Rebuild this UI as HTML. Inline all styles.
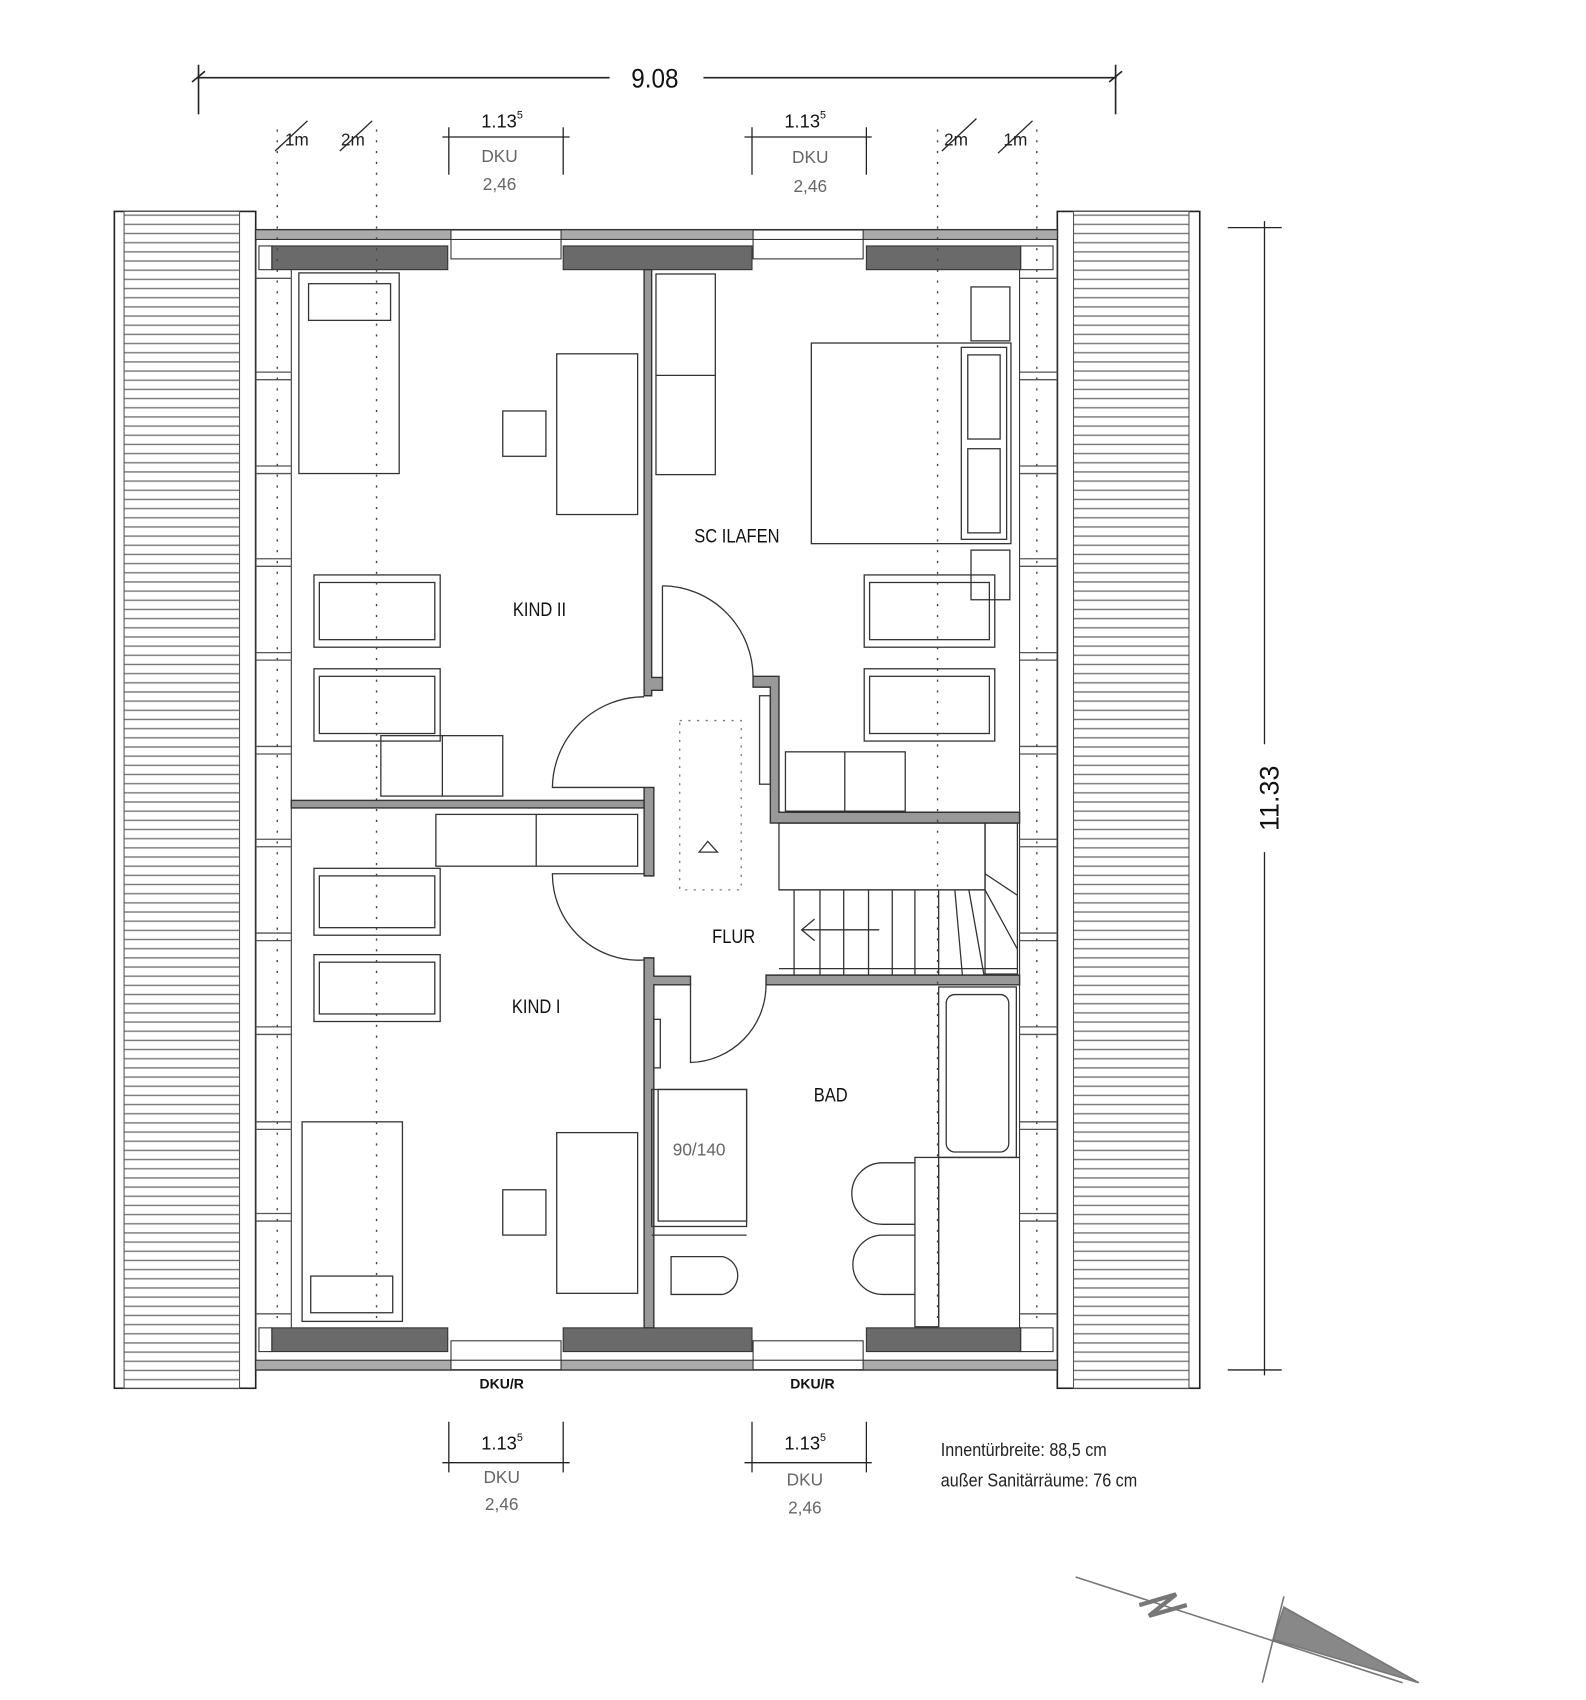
<!DOCTYPE html>
<html><head><meta charset="utf-8"><style>
html,body{margin:0;padding:0;background:#fff;width:1586px;height:1700px;overflow:hidden}
svg{display:block}
text{font-family:"Liberation Sans",sans-serif}
</style></head><body>
<svg width="1586" height="1700" viewBox="0 0 1470 1576" preserveAspectRatio="none" xmlns="http://www.w3.org/2000/svg">
<defs>
<pattern id="hatch" width="10" height="8.5" patternUnits="userSpaceOnUse"><rect width="10" height="8.5" fill="#fff"/><line x1="0" y1="4" x2="10" y2="4" stroke="#777" stroke-width="1.3"/></pattern>
</defs>
<g stroke="#222" fill="none" stroke-width="1.5">
<line x1="183" y1="72" x2="565" y2="72"/><line x1="652" y1="72" x2="1035" y2="72"/>
<line x1="184" y1="60" x2="184" y2="106"/><line x1="1034" y1="60" x2="1034" y2="106"/>
<line x1="178" y1="76" x2="190" y2="66"/><line x1="1028" y1="76" x2="1040" y2="66"/>
<g stroke-width="1.2">
<line x1="410" y1="127" x2="528" y2="127"/><line x1="416" y1="118" x2="416" y2="162"/><line x1="522" y1="118" x2="522" y2="162"/>
<line x1="690" y1="127" x2="808" y2="127"/><line x1="697" y1="118" x2="697" y2="162"/><line x1="803" y1="118" x2="803" y2="162"/>
<line x1="410" y1="1356" x2="528" y2="1356"/><line x1="416" y1="1318" x2="416" y2="1365"/><line x1="522" y1="1318" x2="522" y2="1365"/>
<line x1="690" y1="1356" x2="808" y2="1356"/><line x1="697" y1="1318" x2="697" y2="1365"/><line x1="803" y1="1318" x2="803" y2="1365"/>
<line x1="1172" y1="205" x2="1172" y2="690"/><line x1="1172" y1="790" x2="1172" y2="1275"/>
<line x1="1138" y1="211" x2="1188" y2="211"/><line x1="1138" y1="1270" x2="1188" y2="1270"/>
<line x1="255" y1="140" x2="285" y2="112"/><line x1="315" y1="140" x2="345" y2="112"/>
<line x1="873" y1="140" x2="905" y2="110"/><line x1="925" y1="142" x2="957" y2="112"/>
</g>
</g>
<rect x="106" y="196" width="131" height="1091" fill="#fff" stroke="#222" stroke-width="1.5"/>
<rect x="115" y="196" width="107" height="1091" fill="url(#hatch)" stroke="#555" stroke-width="1"/>
<rect x="980" y="196" width="132" height="1091" fill="#fff" stroke="#222" stroke-width="1.5"/>
<rect x="995" y="196" width="107" height="1091" fill="url(#hatch)" stroke="#555" stroke-width="1"/>
<rect x="237" y="213" width="743" height="1057" fill="#fff" stroke="#333" stroke-width="1.5"/>
<g fill="#6a6a6a" stroke="#333" stroke-width="1">
<rect x="237" y="213" width="181" height="9" fill="#aaa"/><rect x="520" y="213" width="178" height="9" fill="#aaa"/><rect x="800" y="213" width="180" height="9" fill="#aaa"/>
<rect x="252" y="228" width="163" height="22"/><rect x="522" y="228" width="175" height="22"/><rect x="803" y="228" width="143" height="22"/>
<rect x="237" y="1261" width="181" height="9" fill="#aaa"/><rect x="520" y="1261" width="178" height="9" fill="#aaa"/><rect x="800" y="1261" width="180" height="9" fill="#aaa"/>
<rect x="252" y="1231" width="163" height="22"/><rect x="522" y="1231" width="175" height="22"/><rect x="803" y="1231" width="143" height="22"/>
</g>
<g stroke="#333" fill="none" stroke-width="1">
<rect x="418" y="222" width="102" height="18"/><rect x="698" y="222" width="102" height="18"/>
<rect x="418" y="1243" width="102" height="18"/><rect x="698" y="1243" width="102" height="18"/>
<rect x="240" y="228" width="12" height="22"/><rect x="946" y="228" width="30" height="22"/>
<rect x="240" y="1231" width="12" height="22"/><rect x="946" y="1231" width="30" height="22"/>
<line x1="270" y1="250" x2="270" y2="1231"/><line x1="945" y1="250" x2="945" y2="1231"/>
</g>
<g stroke="#555" stroke-width="1.2" fill="none">
<path d="M237 258H270M237 345H270M237 352H270M237 432H270M237 439H270M237 518H270M237 525H270M237 605H270M237 612H270M237 692H270M237 699H270M237 778H270M237 785H270M237 865H270M237 872H270M237 952H270M237 959H270M237 1040H270M237 1047H270M237 1125H270M237 1132H270M237 1218H270"/>
<path d="M945 258H980M945 345H980M945 352H980M945 432H980M945 439H980M945 518H980M945 525H980M945 605H980M945 612H980M945 692H980M945 699H980M945 778H980M945 785H980M945 865H980M945 872H980M945 952H980M945 959H980M945 1040H980M945 1047H980M945 1125H980M945 1132H980M945 1218H980"/>
</g>
<g fill="#999" stroke="#333" stroke-width="1.3">
<path d="M597 250H604V628H614V640H604V645H597Z"/>
<rect x="270" y="742" width="327" height="7"/>
<path d="M597 730H606V812H597Z"/>
<path d="M597 888H606V905H640V913H606V1231H597Z"/>
<path d="M698 627H722V753H945V763H714V637H698Z"/>
<path d="M710 904H945V913H710Z"/>
</g>
<g stroke="#333" fill="none" stroke-width="1.2">
<path d="M614 543 V 630"/><path d="M614 543 A 85 85 0 0 1 698 628"/>
<path d="M597 646 A 85 85 0 0 0 512 730 H597"/>
<path d="M597 890 A 80 80 0 0 1 512 810 H 597"/>
<path d="M640 913 V 985 A 72 72 0 0 0 710 913"/>
<rect x="704" y="645" width="10" height="82"/>
<rect x="630" y="668" width="57" height="157" stroke-dasharray="2,6" stroke="#777"/>
<path d="M648 790 L656 780 L665 790 Z"/>
<rect x="722" y="763" width="191" height="62"/>
<rect x="913" y="763" width="30" height="140"/>
<path d="M736 825V904M760 825V904M782 825V904M805 825V904M827 825V904M848 825V904M870 825V904M885 825L892 904M898 825L912 904M913 825L943 880M913 810L943 830"/>
<line x1="722" y1="825" x2="913" y2="825"/><line x1="722" y1="898" x2="943" y2="898"/>
<path d="M815 862H743M755 852L743 862L755 872"/>
<rect x="277" y="253" width="93" height="186"/><rect x="286" y="263" width="76" height="34"/>
<rect x="516" y="328" width="75" height="149"/><rect x="466" y="381" width="40" height="42"/>
<rect x="291" y="533" width="117" height="67"/><rect x="296" y="540" width="107" height="53"/>
<rect x="291" y="620" width="117" height="67"/><rect x="296" y="627" width="107" height="53"/>
<rect x="353" y="682" width="113" height="56"/><line x1="410" y1="682" x2="410" y2="738"/>
<rect x="404" y="755" width="187" height="48"/><line x1="497" y1="755" x2="497" y2="803"/>
<rect x="291" y="805" width="117" height="62"/><rect x="296" y="812" width="107" height="48"/>
<rect x="291" y="885" width="117" height="62"/><rect x="296" y="892" width="107" height="48"/>
<rect x="280" y="1040" width="93" height="185"/><rect x="288" y="1183" width="76" height="34"/>
<rect x="516" y="1050" width="75" height="149"/><rect x="466" y="1103" width="40" height="42"/>
<rect x="608" y="254" width="55" height="186"/><line x1="608" y1="348" x2="663" y2="348"/>
<rect x="752" y="318" width="185" height="186"/><rect x="891" y="322" width="42" height="178"/>
<rect x="897" y="329" width="30" height="78"/><rect x="897" y="416" width="30" height="78"/>
<rect x="900" y="266" width="36" height="50"/><rect x="900" y="510" width="36" height="46"/>
<rect x="801" y="533" width="121" height="67"/><rect x="806" y="540" width="111" height="53"/>
<rect x="801" y="620" width="121" height="67"/><rect x="806" y="627" width="111" height="53"/>
<rect x="728" y="697" width="111" height="55"/><line x1="783" y1="697" x2="783" y2="752"/>
<rect x="870" y="915" width="72" height="158"/><rect x="877" y="922" width="58" height="146" rx="8"/>
<rect x="848" y="1073" width="22" height="157"/><line x1="870" y1="1073" x2="945" y2="1073"/><line x1="870" y1="1080" x2="870" y2="1230"/>
<path d="M848 1078H818A20 20 0 0 0 818 1135H848"/>
<path d="M848 1145H818A20 20 0 0 0 818 1200H848"/>
<rect x="604" y="1010" width="88" height="127"/><rect x="610" y="1010" width="82" height="122"/>
<path d="M604 1145H692"/><path d="M622 1165H670A18 18 0 0 1 670 1200H622Z"/>
<rect x="606" y="945" width="6" height="45"/>
</g>
<g stroke="#444" stroke-width="1.3" stroke-dasharray="2,8">
<line x1="257" y1="120" x2="257" y2="1230"/><line x1="349" y1="120" x2="349" y2="1230"/>
<line x1="869" y1="120" x2="869" y2="1230"/><line x1="961" y1="120" x2="961" y2="1230"/>
</g>
<g fill="#111" font-size="18" text-anchor="middle">
<text x="500" y="571" transform="translate(500 0) scale(0.85 1) translate(-500 0)">KIND II</text>
<text x="497" y="939" transform="translate(497 0) scale(0.85 1) translate(-497 0)">KIND I</text>
<text x="683" y="503" transform="translate(683 0) scale(0.85 1) translate(-683 0)">SC ILAFEN</text>
<text x="680" y="874" transform="translate(680 0) scale(0.85 1) translate(-680 0)">FLUR</text>
<text x="770" y="1021" transform="translate(770 0) scale(0.85 1) translate(-770 0)">BAD</text>
</g>
<text x="607" y="81" font-size="25" text-anchor="middle" fill="#111" transform="translate(607 0) scale(0.9 1) translate(-607 0)">9.08</text>
<text x="1185" y="740" font-size="25" text-anchor="middle" fill="#111" transform="rotate(-90 1185 740)">11.33</text>
<g fill="#222" font-size="16">
<text x="264" y="135">1m</text><text x="316" y="135">2m</text><text x="875" y="135">2m</text><text x="930" y="135">1m</text>
</g>
<g fill="#111" font-size="17">
<text x="446" y="118">1.13<tspan font-size="10" dy="-8">5</tspan></text>
<text x="727" y="118">1.13<tspan font-size="10" dy="-8">5</tspan></text>
<text x="446" y="1344">1.13<tspan font-size="10" dy="-8">5</tspan></text>
<text x="727" y="1344">1.13<tspan font-size="10" dy="-8">5</tspan></text>
</g>
<g fill="#666" font-size="16" text-anchor="middle">
<text x="463" y="150">DKU</text><text x="463" y="176">2,46</text>
<text x="751" y="151">DKU</text><text x="751" y="178">2,46</text>
<text x="465" y="1375">DKU</text><text x="465" y="1400">2,46</text>
<text x="746" y="1377">DKU</text><text x="746" y="1403">2,46</text>
<text x="648" y="1071">90/140</text>
</g>
<g fill="#111" font-size="13" font-weight="bold" text-anchor="middle">
<text x="465" y="1287">DKU/R</text><text x="753" y="1287">DKU/R</text>
</g>
<g fill="#222" font-size="17">
<text x="872" y="1350" transform="translate(872 0) scale(0.88 1) translate(-872 0)">Innentürbreite: 88,5 cm</text>
<text x="872" y="1378" transform="translate(872 0) scale(0.88 1) translate(-872 0)">außer Sanitärräume: 76 cm</text>
</g>
<g stroke="#777" fill="none" stroke-width="1.5">
<line x1="997" y1="1462" x2="1300" y2="1560"/>
<path d="M1180 1520 L1315 1560 L1190 1490 Z" fill="#888"/>
<line x1="1190" y1="1480" x2="1170" y2="1560"/>
<path d="M1056 1488 L1090 1478 L1065 1498 L1100 1488" stroke-width="4"/>
</g>
</svg>
</body></html>
